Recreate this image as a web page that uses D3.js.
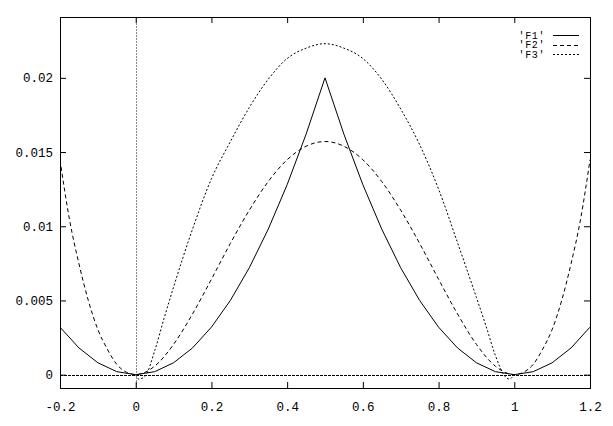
<!DOCTYPE html>
<html><head><meta charset="utf-8">
<script src="https://cdn.jsdelivr.net/npm/d3@7"></script>
<style>html,body{margin:0;padding:0;background:#fff;}svg{display:block;}</style>
</head><body>
<svg id="c" width="613" height="426"></svg>
<script>
// ---- data ----
const xTicks = [-0.2, 0, 0.2, 0.4, 0.6, 0.8, 1, 1.2];
const xTickLabels = ["-0.2", "0", "0.2", "0.4", "0.6", "0.8", "1", "1.2"];
const yTicks = [0, 0.005, 0.01, 0.015, 0.02];
const yTickLabels = ["0", "0.005", "0.01", "0.015", "0.02"];
const seriesNames = ["'F1'", "'F2'", "'F3'"];

const f1X = [-0.2,-0.15,-0.1,-0.05,0,0.05,0.1,0.15,0.2,0.25,0.3,0.35,0.4,0.45,0.5,0.55,0.6,0.65,0.7,0.75,0.8,0.85,0.9,0.95,1,1.05,1.1,1.15,1.2];
const f1Y = [0.0032,0.0018,0.0008,0.0002,0,0.0002,0.0008,0.0018,0.0032,0.005,0.0072,0.0098,0.0128,0.0162,0.02,0.0162,0.0128,0.0098,0.0072,0.005,0.0032,0.0018,0.0008,0.0002,0,0.0002,0.0008,0.0018,0.0032];

const f2X = [-0.2,-0.175,-0.15,-0.125,-0.1,-0.075,-0.05,-0.025,0,0.05,0.1,0.15,0.2,0.25,0.3,0.35,0.4,0.45,0.5,0.55,0.6,0.65,0.7,0.75,0.8,0.85,0.9,0.95,1,1.025,1.05,1.075,1.1,1.125,1.15,1.175,1.2];
const f2Y = [0.01448,0.01046,0.00748,0.00498,0.00304,0.00172,0.00069,0.00017,0,0.00057,0.00204,0.00409,0.00643,0.00884,0.01108,0.01301,0.01448,0.01539,0.01571,0.01539,0.01448,0.01301,0.01108,0.00884,0.00643,0.00409,0.00204,0.00057,0,0.00017,0.00069,0.00172,0.00304,0.00498,0.00748,0.01046,0.01448];

const f3X = [0,0.008,0.025,0.05,0.075,0.1,0.15,0.2,0.25,0.3,0.35,0.4,0.45,0.5,0.55,0.6,0.65,0.7,0.75,0.8,0.85,0.9,0.925,0.95,0.975,0.987,1];
const f3Y = [0,-0.0003,-0.0001,0.0016,0.0038,0.0059,0.0098,0.0132,0.0157,0.0180,0.0199,0.0213,0.0220,0.0223,0.0220,0.0213,0.0199,0.0179,0.0155,0.0125,0.0089,0.0052,0.0033,0.0013,-0.0001,-0.0003,0];

// ---- layout ----
const L = 60, R = 590, T = 17, B = 388;
const svg = d3.select("#c");
const x = d3.scaleLinear().domain([-0.2, 1.2]).range([L, R]);
const y = d3.scaleLinear().domain([-0.0009, 0.0241]).range([B, T]);
const font = "'Liberation Mono', 'DejaVu Sans Mono', monospace";

// zero axes
svg.append("line").attr("x1", L).attr("x2", R).attr("y1", Math.round(y(0)) + 0.5).attr("y2", Math.round(y(0)) + 0.5)
  .attr("stroke", "#000").attr("stroke-dasharray", "3,1").attr("stroke-width", 1);
svg.append("line").attr("x1", Math.round(x(0)) + 0.5).attr("x2", Math.round(x(0)) + 0.5).attr("y1", T).attr("y2", B)
  .attr("stroke", "#888").attr("stroke-dasharray", "2,1").attr("stroke-width", 1);

// frame
svg.append("rect").attr("x", L + 0.5).attr("y", T + 0.5).attr("width", R - L).attr("height", B - T)
  .attr("fill", "none").attr("stroke", "#000").attr("stroke-width", 1);

// axes with inward ticks
const axB = d3.axisBottom(x).tickValues(xTicks).tickFormat((d, i) => xTickLabels[i]).tickSizeInner(-6).tickSizeOuter(0).tickPadding(14);
const axT = d3.axisTop(x).tickValues(xTicks).tickFormat("").tickSizeInner(-6).tickSizeOuter(0);
const axL = d3.axisLeft(y).tickValues(yTicks).tickFormat((d, i) => yTickLabels[i]).tickSizeInner(-6).tickSizeOuter(0).tickPadding(7);
const axR = d3.axisRight(y).tickValues(yTicks).tickFormat("").tickSizeInner(-6).tickSizeOuter(0);

function style(g) {
  g.select(".domain").remove();
  g.selectAll("line").attr("stroke", "#000");
  g.selectAll("text").attr("font-family", font).attr("font-size", 12.5).attr("fill", "#000");
}
svg.append("g").attr("transform", `translate(0,${B})`).call(axB).call(style);
svg.append("g").attr("transform", `translate(0,${T})`).call(axT).call(style);
svg.append("g").attr("transform", `translate(${L},0)`).call(axL).call(style);
svg.append("g").attr("transform", `translate(${R},0)`).call(axR).call(style);

// curves
svg.append("clipPath").attr("id", "clp").append("rect").attr("x", L).attr("y", T).attr("width", R - L).attr("height", B - T);
const series = [
  {xs: f1X, ys: f1Y, curve: d3.curveLinear, dash: null},
  {xs: f2X, ys: f2Y, curve: d3.curveMonotoneX, dash: "4,3"},
  {xs: f3X, ys: f3Y, curve: d3.curveMonotoneX, dash: "2,2"}
];
const line = d3.line();
series.forEach(s => {
  line.x(d => x(d[0])).y(d => y(d[1])).curve(s.curve);
  svg.append("path").attr("d", line(s.xs.map((v, i) => [v, s.ys[i]])))
    .attr("fill", "none").attr("stroke", "#000").attr("stroke-width", 1)
    .attr("stroke-dasharray", s.dash).attr("clip-path", "url(#clp)");
});

// legend
const lg = svg.append("g");
seriesNames.forEach((n, i) => {
  const yy = 35 + i * 9.7;
  lg.append("text").attr("x", 545).attr("y", yy + 3.5).attr("text-anchor", "end")
    .attr("font-family", font).attr("font-size", 10).attr("letter-spacing", 0.6).attr("fill", "#000").text(n);
  lg.append("line").attr("x1", 553).attr("x2", 579).attr("y1", Math.round(yy) + 0.5).attr("y2", Math.round(yy) + 0.5)
    .attr("stroke", "#000").attr("stroke-width", 1).attr("stroke-dasharray", series[i].dash);
});
</script>
</body></html>
